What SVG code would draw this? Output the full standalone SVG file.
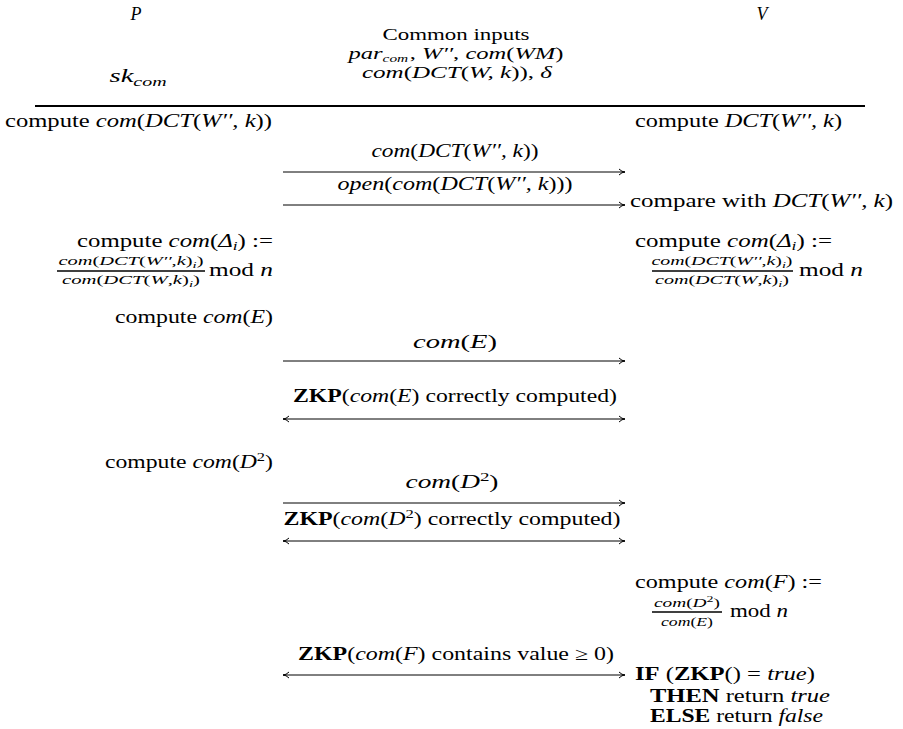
<svg xmlns="http://www.w3.org/2000/svg" width="903" height="729" viewBox="0 0 903 729">
<style>
text{font-family:"Liberation Serif","Times New Roman",serif;font-size:18px;fill:#000}
.i{font-style:italic}
.b{font-weight:bold}
.s{font-size:12.5px}
.m{text-anchor:middle}
.e{text-anchor:end}
.sub{font-size:12.5px}
.h{font-size:16px}
line{stroke:#000;stroke-width:1}
.bar{stroke-width:1.3}
.head{fill:none;stroke:#000;stroke-width:1}
</style>
<defs>
<marker id="ah" markerWidth="10" markerHeight="8" refX="7" refY="4" orient="auto" markerUnits="userSpaceOnUse">
<path class="head" d="M1,1 Q4,4 7,4 Q4,4 1,7"/>
</marker>
<marker id="at" markerWidth="10" markerHeight="8" refX="3" refY="4" orient="auto" markerUnits="userSpaceOnUse">
<path class="head" d="M9,1 Q6,4 3,4 Q6,4 9,7"/>
</marker>
</defs>

<g id="header">
<text class="i m" x="136" y="20" font-size="20">P</text>
<text class="i m" x="762" y="20" font-size="20">V</text>
<text class="m h" x="456" y="40" textLength="147" lengthAdjust="spacingAndGlyphs">Common inputs</text>
<text class="m h" x="456" y="59" textLength="215" lengthAdjust="spacingAndGlyphs"><tspan class="i">par</tspan><tspan class="i" font-size="10" dy="3">com</tspan><tspan dy="-3" dx="1">, </tspan><tspan class="i">W′′</tspan>, <tspan class="i">com</tspan>(<tspan class="i">WM</tspan>)</text>
<text class="m h" x="457" y="78" textLength="190" lengthAdjust="spacingAndGlyphs"><tspan class="i">com</tspan>(<tspan class="i">DCT</tspan>(<tspan class="i">W, k</tspan>)), <tspan class="i">δ</tspan></text>
<text class="m" x="138" y="82" textLength="57" lengthAdjust="spacingAndGlyphs"><tspan class="i">sk</tspan><tspan class="i sub" dy="4">com</tspan></text>
<line x1="35" y1="106" x2="865" y2="106" style="stroke-width:2.2"/>
</g>

<g id="prover">
<text x="5" y="127" textLength="267" lengthAdjust="spacingAndGlyphs">compute <tspan class="i">com</tspan>(<tspan class="i">DCT</tspan>(<tspan class="i">W′′, k</tspan>))</text>
<text class="e" x="273" y="247" textLength="196" lengthAdjust="spacingAndGlyphs">compute <tspan class="i">com</tspan>(<tspan class="i">Δ</tspan><tspan class="i sub" dy="3">i</tspan><tspan dy="-3">) :=</tspan></text>
<text class="s m" x="131" y="265" textLength="145" lengthAdjust="spacingAndGlyphs"><tspan class="i">com</tspan>(<tspan class="i">DCT</tspan>(<tspan class="i">W′′</tspan>,<tspan class="i">k</tspan>)<tspan class="i" font-size="9" dy="3">i</tspan><tspan dy="-3">)</tspan></text>
<line class="bar" x1="57" y1="271" x2="205" y2="271"/>
<text class="s m" x="131" y="284" textLength="138" lengthAdjust="spacingAndGlyphs"><tspan class="i">com</tspan>(<tspan class="i">DCT</tspan>(<tspan class="i">W</tspan>,<tspan class="i">k</tspan>)<tspan class="i" font-size="9" dy="3">i</tspan><tspan dy="-3">)</tspan></text>
<text class="e" x="273" y="276" textLength="64" lengthAdjust="spacingAndGlyphs">mod <tspan class="i">n</tspan></text>
<text class="e" x="273" y="323" textLength="158" lengthAdjust="spacingAndGlyphs">compute <tspan class="i">com</tspan>(<tspan class="i">E</tspan>)</text>
<text class="e" x="273" y="468" textLength="168" lengthAdjust="spacingAndGlyphs">compute <tspan class="i">com</tspan>(<tspan class="i">D</tspan><tspan class="sub" dy="-7">2</tspan><tspan dy="7">)</tspan></text>
</g>

<g id="verifier">
<text x="635" y="127" textLength="207" lengthAdjust="spacingAndGlyphs">compute <tspan class="i">DCT</tspan>(<tspan class="i">W′′, k</tspan>)</text>
<text x="630" y="207" textLength="263" lengthAdjust="spacingAndGlyphs">compare with <tspan class="i">DCT</tspan>(<tspan class="i">W′′, k</tspan>)</text>
<text x="635" y="247" textLength="197" lengthAdjust="spacingAndGlyphs">compute <tspan class="i">com</tspan>(<tspan class="i">Δ</tspan><tspan class="i sub" dy="3">i</tspan><tspan dy="-3">) :=</tspan></text>
<text class="s m" x="722" y="265" textLength="141" lengthAdjust="spacingAndGlyphs"><tspan class="i">com</tspan>(<tspan class="i">DCT</tspan>(<tspan class="i">W′′</tspan>,<tspan class="i">k</tspan>)<tspan class="i" font-size="9" dy="3">i</tspan><tspan dy="-3">)</tspan></text>
<line class="bar" x1="652" y1="271" x2="793" y2="271"/>
<text class="s m" x="722" y="284" textLength="134" lengthAdjust="spacingAndGlyphs"><tspan class="i">com</tspan>(<tspan class="i">DCT</tspan>(<tspan class="i">W</tspan>,<tspan class="i">k</tspan>)<tspan class="i" font-size="9" dy="3">i</tspan><tspan dy="-3">)</tspan></text>
<text x="799" y="276" textLength="64" lengthAdjust="spacingAndGlyphs">mod <tspan class="i">n</tspan></text>
<text x="635" y="588" textLength="187" lengthAdjust="spacingAndGlyphs">compute <tspan class="i">com</tspan>(<tspan class="i">F</tspan>) :=</text>
<text class="s m" x="687" y="607" textLength="66" lengthAdjust="spacingAndGlyphs"><tspan class="i">com</tspan>(<tspan class="i">D</tspan><tspan font-size="9" dy="-5">2</tspan><tspan dy="5">)</tspan></text>
<line class="bar" x1="652" y1="612" x2="722" y2="612"/>
<text class="s m" x="687" y="626" textLength="52" lengthAdjust="spacingAndGlyphs"><tspan class="i">com</tspan>(<tspan class="i">E</tspan>)</text>
<text x="730" y="617" textLength="58" lengthAdjust="spacingAndGlyphs">mod <tspan class="i">n</tspan></text>
<text x="635" y="680" textLength="180" lengthAdjust="spacingAndGlyphs"><tspan class="b">IF</tspan> (<tspan class="b">ZKP</tspan>() = <tspan class="i">true</tspan>)</text>
<text x="650" y="702" textLength="180" lengthAdjust="spacingAndGlyphs"><tspan class="b">THEN</tspan> return <tspan class="i">true</tspan></text>
<text x="650" y="722" textLength="173" lengthAdjust="spacingAndGlyphs"><tspan class="b">ELSE</tspan> return <tspan class="i">false</tspan></text>
</g>

<g id="connectors">
<text class="m" x="455" y="157" textLength="167" lengthAdjust="spacingAndGlyphs"><tspan class="i">com</tspan>(<tspan class="i">DCT</tspan>(<tspan class="i">W′′, k</tspan>))</text>
<line x1="283" y1="172" x2="625" y2="172" marker-end="url(#ah)"/>
<text class="m" x="455" y="190" textLength="235" lengthAdjust="spacingAndGlyphs"><tspan class="i">open</tspan>(<tspan class="i">com</tspan>(<tspan class="i">DCT</tspan>(<tspan class="i">W′′, k</tspan>)))</text>
<line x1="283" y1="205" x2="625" y2="205" marker-end="url(#ah)"/>
<text class="m" x="455" y="348" textLength="84" lengthAdjust="spacingAndGlyphs"><tspan class="i">com</tspan>(<tspan class="i">E</tspan>)</text>
<line x1="283" y1="361" x2="625" y2="361" marker-end="url(#ah)"/>
<text class="m" x="455" y="402" textLength="324" lengthAdjust="spacingAndGlyphs"><tspan class="b">ZKP</tspan>(<tspan class="i">com</tspan>(<tspan class="i">E</tspan>) correctly computed)</text>
<line x1="283" y1="419" x2="625" y2="419" marker-start="url(#at)" marker-end="url(#ah)"/>
<text class="m" x="452" y="488" textLength="93" lengthAdjust="spacingAndGlyphs"><tspan class="i">com</tspan>(<tspan class="i">D</tspan><tspan class="sub" dy="-7">2</tspan><tspan dy="7">)</tspan></text>
<line x1="283" y1="503" x2="625" y2="503" marker-end="url(#ah)"/>
<text class="m" x="452" y="525" textLength="337" lengthAdjust="spacingAndGlyphs"><tspan class="b">ZKP</tspan>(<tspan class="i">com</tspan>(<tspan class="i">D</tspan><tspan class="sub" dy="-7">2</tspan><tspan dy="7">) correctly computed)</tspan></text>
<line x1="283" y1="541" x2="625" y2="541" marker-start="url(#at)" marker-end="url(#ah)"/>
<text class="m" x="456" y="660" textLength="316" lengthAdjust="spacingAndGlyphs"><tspan class="b">ZKP</tspan>(<tspan class="i">com</tspan>(<tspan class="i">F</tspan>) contains value ≥ 0)</text>
<line x1="283" y1="675" x2="625" y2="675" marker-start="url(#at)" marker-end="url(#ah)"/>
</g>
</svg>
